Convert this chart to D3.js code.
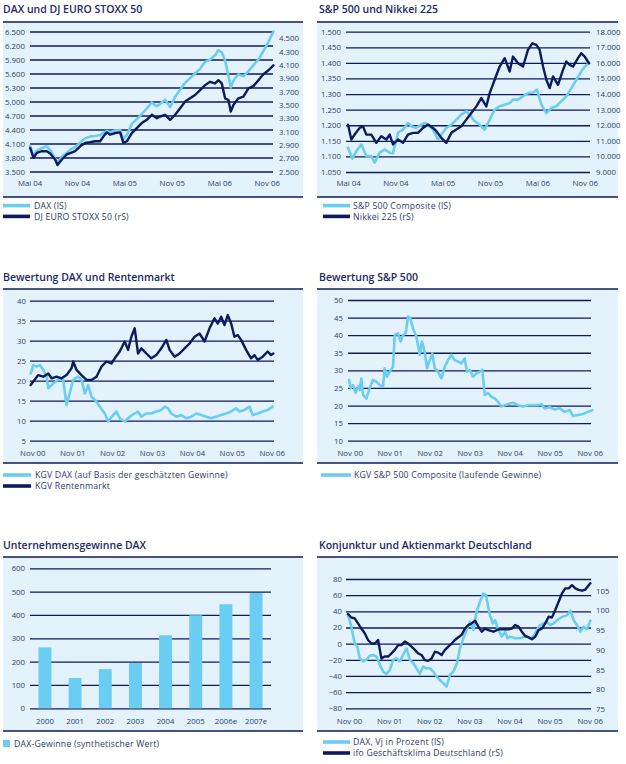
<!DOCTYPE html>
<html><head><meta charset="utf-8">
<script src="https://cdn.jsdelivr.net/npm/d3@7"></script>
<style>
body{margin:0;background:#fff;}
svg text{font-family:"Open Sans",sans-serif;}
</style>
</head><body>
<svg id="c" width="626" height="764"></svg>
<script>
// ---------------- DATA ----------------
// Panel 1: DAX und DJ EURO STOXX 50 (x = months since Mai 04)
const p1Months = [0.08,0.51,0.93,1.56,2.19,2.61,3.24,3.54,4.09,4.72,5.23,5.77,6.41,7.04,7.67,8.30,8.93,9.36,9.78,10.20,10.83,11.46,11.88,12.31,12.94,13.57,14.20,14.83,15.47,16.10,16.52,17.15,17.78,18.42,19.05,19.68,20.31,20.94,21.58,22.21,22.84,23.47,23.89,24.32,24.74,25.16,25.45,25.79,26.42,27.05,27.69,28.32,28.95,29.58,30.22,30.85];
const daxValues = [4050,3840,3950,4000,4040,3960,3780,3680,3820,3900,3980,4020,4120,4210,4250,4260,4280,4330,4370,4340,4380,4390,4200,4280,4520,4620,4730,4850,4980,4900,4950,5040,4880,5100,5250,5400,5500,5600,5700,5850,5900,5990,6100,6050,5880,5550,5300,5450,5580,5540,5650,5780,5900,6080,6280,6500];
const stoxxValues = [2857,2708,2782,2807,2807,2772,2683,2599,2683,2758,2782,2807,2881,2931,2941,2956,2956,3030,3089,3055,3079,3089,2931,2956,3079,3154,3228,3277,3352,3302,3327,3352,3277,3352,3451,3550,3599,3649,3723,3797,3847,3822,3871,3822,3599,3574,3401,3500,3599,3624,3748,3782,3871,3960,4020,4094];
const p1LeftTicks = [3500,3800,4100,4400,4700,5000,5300,5600,5900,6200,6500];
const p1RightTicks = [2500,2700,2900,3100,3300,3500,3700,3900,4100,4300,4500];
const halfYearTicks = [0,6,12,18,24,30];
const halfYearLabels = ["Mai 04","Nov 04","Mai 05","Nov 05","Mai 06","Nov 06"];

// Panel 2: S&P 500 und Nikkei 225
const spMonths = [0,0.55,1.06,1.69,2.32,2.96,3.38,4.01,4.65,5.28,5.70,6.34,6.97,7.60,8.03,8.66,9.29,9.72,10.14,10.77,11.41,11.83,12.46,13.10,13.73,14.36,15.00,15.42,16.05,16.69,17.32,17.96,18.59,19.22,19.86,20.49,20.91,21.55,22.18,22.81,23.45,23.96,24.50,25.14,25.77,26.41,27.04,27.67,28.31,28.94,29.57,30.00,30.55];
const spValues = [1128,1093,1117,1138,1101,1101,1080,1112,1122,1112,1110,1176,1186,1207,1197,1191,1202,1207,1202,1186,1154,1170,1191,1202,1218,1234,1245,1234,1213,1202,1186,1218,1250,1261,1266,1271,1282,1282,1293,1303,1305,1314,1266,1239,1255,1261,1277,1293,1319,1346,1372,1388,1399];
const nikkeiMonths = [0,0.42,0.84,1.48,1.90,2.32,2.96,3.59,4.22,4.86,5.28,5.70,6.34,6.97,7.60,8.24,8.87,9.51,10.14,10.77,11.20,11.83,12.46,13.10,13.73,14.36,15.00,15.63,16.27,16.90,17.53,17.96,18.59,19.22,19.86,20.49,20.91,21.55,22.18,22.81,23.36,23.87,24.29,24.72,25.14,25.56,25.98,26.62,27.25,27.67,28.09,28.52,29.15,29.57,30.00,30.55];
const nikkeiValues = [12040,11084,11400,11830,11935,11400,11400,10870,11300,11084,11400,10765,11084,10870,11400,11510,11510,11830,12040,11830,11616,11190,10870,11510,11722,11935,12360,12785,13210,13744,13210,14063,14915,15766,16300,15446,16404,15978,15766,16830,17255,17150,16830,15766,14915,14380,15128,14596,15553,16085,15872,15766,16300,16617,16404,15978];
const p2LeftTicks = [1050,1100,1150,1200,1250,1300,1350,1400,1450,1500];
const p2RightTicks = [9000,10000,11000,12000,13000,14000,15000,16000,17000,18000];

// Panel 3: Bewertung DAX und Rentenmarkt (x = months since Nov 00)
const kgvDaxMonths = [-0.5,0.3,1.3,2.3,3.3,4.3,4.8,6.3,7.8,9.3,10.3,12.3,13.8,14.8,15.8,16.8,17.8,19.3,20.3,21.8,22.8,24.3,25.3,26.3,27.8,29.3,30.8,31.8,32.8,34.3,35.8,37.3,38.8,39.8,40.8,41.8,43.3,44.8,46.3,47.8,49.3,50.8,52.3,53.8,55.3,56.8,58.3,59.8,61.3,62.3,63.8,65.3,66.3,67.8,69.3,70.8,72.3];
const kgvDaxValues = [21.8,23.9,23.5,23.9,22.7,21,18.1,19.3,20.2,20.2,13.9,20.2,21,20.2,16.8,18.9,16,14.8,13.5,11.8,9.8,11.4,12.3,10.6,9.8,11,11.8,12.3,11,11.8,11.8,12.3,12.7,13.5,13.1,11.8,11,11.4,10.6,11,11.8,11.4,11,10.6,11,11.4,11.8,12.3,13.1,12.3,12.7,13.5,11.4,11.8,12.3,12.7,13.5];
const kgvRentenMonths = [-0.5,0.3,1.8,3.3,4.8,5.8,7.3,8.8,10.3,11.8,12.3,13.3,14.8,16.3,17.8,19.3,20.8,22.3,23.8,24.8,26.3,27.8,28.8,29.8,30.8,31.8,32.8,34.3,35.8,37.3,38.8,40.3,41.3,42.8,44.3,45.8,47.3,48.8,50.3,51.8,53.3,54.8,55.8,56.8,57.8,58.8,59.8,60.8,61.8,62.8,64.3,65.8,66.8,67.8,69.3,70.8,71.8,72.5];
const kgvRentenValues = [18.9,19.8,21.4,21,21.8,20.6,21,20.6,21.4,23.1,24.8,22.7,21.4,20.2,20.2,21,23.5,24.8,24.3,25.6,27.3,29.8,27.7,31,33.1,26.8,28.1,26.8,25.6,26.4,28.1,30.2,27.7,26,26.8,28.1,29.3,31,31.8,29.8,33.1,35.6,34.3,36,33.9,36.4,34.3,31,31.4,30.2,27.7,25.6,26.4,25.2,26,27.3,26.4,26.8];
const p3Ticks = [5,10,15,20,25,30,35,40];
const yearTicks = [0,12,24,36,48,60,72];
const yearLabels = ["Nov 00","Nov 01","Nov 02","Nov 03","Nov 04","Nov 05","Nov 06"];

// Panel 4: Bewertung S&P 500
const spKgvMonths = [-0.2,0.3,1.0,1.8,2.5,3.0,3.5,4.0,5.0,6.0,7.0,8.0,9.0,10.0,10.5,11.2,12.0,13.0,13.5,14.5,15.3,16.0,16.8,17.5,18.2,19.0,20.0,21.0,21.7,22.5,23.2,24.0,24.8,25.5,26.5,27.5,28.5,29.5,30.5,31.5,32.5,33.5,34.5,35.2,36.0,37.0,38.0,39.0,39.8,40.5,41.5,42.5,43.5,44.5,45.5,46.5,48.0,49.0,50.5,52.0,53.5,55.0,56.5,57.5,58.5,60.0,61.5,63.0,64.5,66.0,67.0,68.5,70.0,71.5,72.8];
const spKgvValues = [27.3,24.9,25.8,23.6,25.4,24.4,27.7,23,22,24.9,27.3,26.8,25.8,25.4,30.6,28.2,29.6,31,40,40.5,38.2,40,40.5,45.3,44.8,41.9,39.6,34.4,38.2,35.3,30.6,32.9,34.8,30.6,29.6,27.7,31,32.9,34.4,32.9,32.5,32,33.4,29.6,30.1,28.2,29.1,29.6,30.1,23,23.5,22.5,22,21.1,19.7,20.1,20.6,20.8,20.1,19.7,20.1,20.1,20.1,20.4,19.2,19.5,18.9,19.2,18.2,18.7,17,17.3,17.6,18.2,18.7];
const p4Ticks = [10,15,20,25,30,35,40,45,50];

// Panel 5: Unternehmensgewinne DAX
const profitYears = ["2000","2001","2002","2003","2004","2005","2006e","2007e"];
const profitValues = [261,130,168,194,313,399,446,494];
const p5Ticks = [0,100,200,300,400,500,600];

// Panel 6: Konjunktur und Aktienmarkt Deutschland
const daxVjMonths = [-0.3,0.7,1.7,2.5,3.2,4.2,5.2,6.2,7.2,8.2,9.2,10.2,11.2,12.2,13.2,14.2,15.2,16.2,17.2,18.2,19.2,20.2,21.2,22.2,23.2,24.2,25.2,26.2,27.2,28.2,29.2,30.2,31.2,32.2,33.2,34.2,35.2,36.2,37.2,38.2,39.2,40.2,41.0,42.0,43.0,43.7,44.7,45.7,46.7,47.4,48.2,49.7,51.2,52.7,54.2,55.2,56.2,57.2,58.2,59.2,60.2,61.2,62.2,63.7,65.2,66.2,67.2,68.2,69.2,70.2,71.2,72.2];
const daxVjValues = [35.5,21,0.4,-3.7,-18,-22,-20,-15,-14,-16,-26,-34.6,-37.5,-32.6,-20,-18,-22,-14,-5.8,-20,-24,-30.5,-37.5,-28.5,-30.5,-30.5,-34.6,-40.8,-45,-49,-53,-38.8,-34.6,-26,-5.8,6.6,17,27,17,40,52,62,60,37.5,25,29,17,8.7,15,6.6,8.7,6.6,6.6,9.5,6.6,8.7,17,23,25,27,23,25,29,33,35,41,29,23,15,21,18,28.5];
const ifoMonths = [-0.3,0.7,1.7,2.7,3.7,4.7,5.7,6.7,7.7,8.7,9.7,10.7,11.7,12.7,13.7,14.7,15.7,16.7,17.7,18.7,19.7,20.7,21.7,22.7,23.7,24.7,25.7,26.7,27.7,28.7,29.7,30.7,31.7,32.7,33.7,34.7,35.7,36.7,37.7,38.7,39.7,40.7,41.7,43.2,44.7,46.2,47.7,48.7,49.7,50.7,51.7,52.7,53.7,54.7,55.7,56.7,57.7,58.7,59.7,60.7,61.7,62.7,63.7,64.7,65.7,66.7,67.7,68.7,69.7,70.7,71.7,72.2];
const ifoValues = [99.1,98.2,98,96.7,95.4,94.2,92.5,91.6,91.6,92.5,87.8,88.3,88.3,89.1,90,91.2,91.2,92.1,91.6,90.8,90,89.1,88.7,87.4,87.2,87.8,89.5,89.3,88.7,90,90.8,91.6,92.5,93.2,93.8,95.4,96.3,96.7,97.4,95.9,94.6,95.4,95,94.6,95.2,95.2,95.2,95.4,96.3,95.9,94.6,93.5,93.2,92.7,93.3,95,95.4,96.7,98.4,98.2,100.1,102.2,104.3,105.6,105.6,106.4,105.6,105.2,105,105.3,106.4,106.9];
const p6LeftTicks = [-80,-60,-40,-20,0,20,40,60,80];
const p6RightTicks = [75,80,85,90,95,100,105];

// ---------------- STYLE ----------------
const NAVY = "#0c1a5e", LIGHT = "#6ccdf3", BG = "#e4f3fb", TXT = "#2c3a6e", TITLE = "#1a2866";
const loc = d3.formatLocale({decimal:",", thousands:".", grouping:[3], currency:["","€"]});
const fmt = loc.format(",");
const svg = d3.select("#c");

function frame(o){
  const g = svg.append("g");
  g.append("text").attr("x",o.tx).attr("y",o.ty).attr("fill",TITLE).attr("font-size",10.5).attr("font-weight",600).text(o.title);
  g.append("rect").attr("x",o.bx0).attr("y",o.by0).attr("width",o.bx1-o.bx0).attr("height",o.by1-o.by0).attr("fill",BG);
  [o.by0,o.by1].forEach(y=>g.append("line").attr("x1",o.bx0).attr("x2",o.bx1).attr("y1",y).attr("y2",y).attr("stroke",NAVY).attr("stroke-width",1.5));
  return g;
}
function leftAxis(g, y, ticks, gx0, gx1, pad, format){
  const a = g.append("g").attr("transform",`translate(${gx0},0)`)
    .call(d3.axisLeft(y).tickValues(ticks).tickSize(-(gx1-gx0)).tickPadding(pad).tickFormat(format||fmt));
  a.select(".domain").remove();
  a.selectAll("line").attr("stroke",NAVY).attr("stroke-width",1.3);
  a.selectAll("text").attr("fill",TXT).attr("font-size",7.8).attr("font-family","Open Sans");
}
function rightAxis(g, y, ticks, lx, format){
  const a = g.append("g").attr("transform",`translate(${lx},0)`)
    .call(d3.axisRight(y).tickValues(ticks).tickSize(0).tickPadding(0).tickFormat(format||fmt));
  a.select(".domain").remove();
  a.selectAll("text").attr("fill",TXT).attr("font-size",7.8).attr("font-family","Open Sans");
}
function bottomAxis(g, x, ticks, labels, ly){
  const a = g.append("g").attr("transform",`translate(0,${ly})`)
    .call(d3.axisBottom(x).tickValues(ticks).tickSize(0).tickPadding(0).tickFormat((d,i)=>labels[i]));
  a.select(".domain").remove();
  a.selectAll("text").attr("fill",TXT).attr("font-size",7.8).attr("font-family","Open Sans").attr("dy","0.35em").attr("y",0);
}
function lineSeries(g, xs, vs, x, y, color, w){
  const pts = xs.map((m,i)=>[m, vs[i]]);
  g.append("path").datum(pts).attr("fill","none").attr("stroke",color).attr("stroke-width",w)
   .attr("stroke-linejoin","round").attr("stroke-linecap","round")
   .attr("d", d3.line().x(d=>x(d[0])).y(d=>y(d[1])));
}
function legendLine(g, x0, x1, tx, y, color, label){
  g.append("line").attr("x1",x0).attr("x2",x1).attr("y1",y).attr("y2",y).attr("stroke",color).attr("stroke-width",3.6);
  g.append("text").attr("x",tx).attr("y",y).attr("dy","0.36em").attr("fill",TXT)
   .attr("font-family","Lato").attr("font-size",8.7).attr("letter-spacing",0.2).text(label);
}

// ---------- Panel 1 ----------
{
  const g = frame({title:"DAX und DJ EURO STOXX 50", tx:3, ty:13, bx0:3, bx1:303, by0:22, by1:197});
  const x = d3.scaleLinear([0,30],[29.5,266.7]);
  const yL = d3.scaleLinear([3500,6500],[171.5,31.5]);
  const yR = d3.scaleLinear([2500,4500],[171.7,38.2]);
  leftAxis(g, yL, p1LeftTicks, 30, 273, 5);
  rightAxis(g, yR, p1RightTicks, 279);
  bottomAxis(g, x, halfYearTicks, halfYearLabels, 183.5);
  lineSeries(g, p1Months, daxValues, x, yL, LIGHT, 2.6);
  lineSeries(g, p1Months, stoxxValues, x, yR, NAVY, 2.4);
  legendLine(g, 3, 30, 34, 205.6, LIGHT, "DAX (lS)");
  legendLine(g, 3, 30, 34, 216.4, NAVY, "DJ EURO STOXX 50 (rS)");
}
// ---------- Panel 2 ----------
{
  const g = frame({title:"S&P 500 und Nikkei 225", tx:319, ty:13, bx0:317, bx1:618, by0:22, by1:197});
  const x = d3.scaleLinear([0,30],[348,584.7]);
  const yL = d3.scaleLinear([1050,1500],[172,31.7]);
  const yR = d3.scaleLinear([9000,18000],[172,31.7]);
  leftAxis(g, yL, p2LeftTicks, 346, 590, 5);
  rightAxis(g, yR, p2RightTicks, 596);
  bottomAxis(g, x, halfYearTicks, halfYearLabels, 183.5);
  lineSeries(g, spMonths, spValues, x, yL, LIGHT, 2.6);
  lineSeries(g, nikkeiMonths, nikkeiValues, x, yR, NAVY, 2.4);
  legendLine(g, 323, 350, 353, 205.6, LIGHT, "S&P 500 Composite (lS)");
  legendLine(g, 323, 350, 353, 216.4, NAVY, "Nikkei 225 (rS)");
}
// ---------- Panel 3 ----------
{
  const g = frame({title:"Bewertung DAX und Rentenmarkt", tx:3, ty:281, bx0:3, bx1:303, by0:289, by1:463});
  const x = d3.scaleLinear([0,72],[32.3,271.7]);
  const y = d3.scaleLinear([5,40],[440.7,300.7]);
  leftAxis(g, y, p3Ticks, 30, 274, 4);
  bottomAxis(g, x, yearTicks, yearLabels, 453);
  lineSeries(g, kgvDaxMonths, kgvDaxValues, x, y, LIGHT, 2.6);
  lineSeries(g, kgvRentenMonths, kgvRentenValues, x, y, NAVY, 2.4);
  legendLine(g, 3, 31, 35, 475, LIGHT, "KGV DAX (auf Basis der geschätzten Gewinne)");
  legendLine(g, 3, 31, 35, 486, NAVY, "KGV Rentenmarkt");
}
// ---------- Panel 4 ----------
{
  const g = frame({title:"Bewertung S&P 500", tx:319, ty:281, bx0:317, bx1:618, by0:289, by1:463});
  const x = d3.scaleLinear([0,72],[349.7,589.7]);
  const y = d3.scaleLinear([10,50],[440.7,300]);
  leftAxis(g, y, p4Ticks, 348, 591, 5);
  bottomAxis(g, x, yearTicks, yearLabels, 453);
  lineSeries(g, spKgvMonths, spKgvValues, x, y, LIGHT, 2.6);
  legendLine(g, 321, 351, 354, 475, LIGHT, "KGV S&P 500 Composite (laufende Gewinne)");
}
// ---------- Panel 5 ----------
{
  const g = frame({title:"Unternehmensgewinne DAX", tx:3, ty:549, bx0:3, bx1:303, by0:557, by1:731});
  const x = d3.scaleBand(profitYears, [30,271]).paddingInner(0.57).paddingOuter(0.28);
  const y = d3.scaleLinear([0,600],[708.3,568.3]);
  leftAxis(g, y, p5Ticks, 30, 271, 5, d3.format("d"));
  g.append("g").selectAll("rect").data(profitYears).join("rect")
    .attr("x",d=>x(d)).attr("width",x.bandwidth())
    .attr("y",(d,i)=>y(profitValues[i])).attr("height",(d,i)=>y(0)-y(profitValues[i]))
    .attr("fill",LIGHT);
  const a = g.append("g").attr("transform","translate(0,721)")
    .call(d3.axisBottom(x).tickSize(0).tickPadding(0));
  a.select(".domain").remove();
  a.selectAll("text").attr("fill",TXT).attr("font-size",7.8).attr("font-family","Open Sans").attr("dy","0.35em").attr("y",0);
  g.append("rect").attr("x",3).attr("y",740).attr("width",7).attr("height",7).attr("fill",LIGHT);
  g.append("text").attr("x",14).attr("y",743.5).attr("dy","0.36em").attr("fill",TXT)
   .attr("font-family","Lato").attr("font-size",8.7).attr("letter-spacing",0.2).text("DAX-Gewinne (synthetischer Wert)");
}
// ---------- Panel 6 ----------
{
  const g = frame({title:"Konjunktur und Aktienmarkt Deutschland", tx:319, ty:549, bx0:317, bx1:618, by0:557, by1:731});
  const x = d3.scaleLinear([0,72],[349,589.7]);
  const yL = d3.scaleLinear([-80,80],[708.3,579]);
  const yR = d3.scaleLinear([75,105],[709,590.7]);
  leftAxis(g, yL, p6LeftTicks, 346, 591, 4, d3.format("d"));
  rightAxis(g, yR, p6RightTicks, 596, d3.format("d"));
  bottomAxis(g, x, yearTicks, yearLabels, 721);
  lineSeries(g, daxVjMonths, daxVjValues, x, yL, LIGHT, 2.6);
  lineSeries(g, ifoMonths, ifoValues, x, yR, NAVY, 2.4);
  legendLine(g, 323, 350, 353, 742, LIGHT, "DAX, Vj in Prozent (lS)");
  legendLine(g, 323, 350, 353, 753, NAVY, "ifo Geschäftsklima Deutschland (rS)");
}
</script>
</body></html>
